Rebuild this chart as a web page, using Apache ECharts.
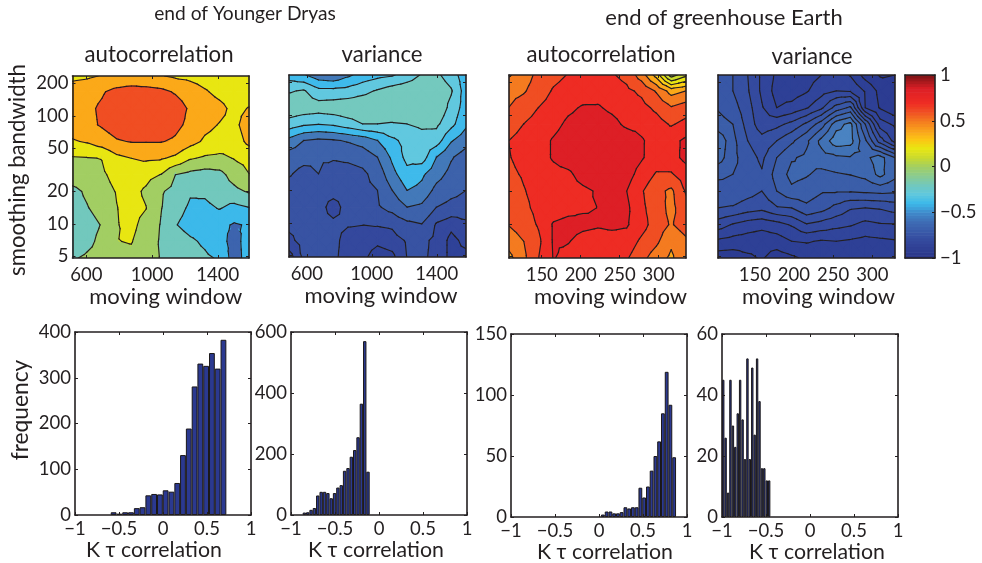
<!DOCTYPE html>
<html><head><meta charset="utf-8">
<style>html,body{margin:0;padding:0;background:#fff}#c{width:982px;height:563px}</style>
<script src="https://cdn.jsdelivr.net/npm/echarts@6/dist/echarts.min.js"></script>
</head><body><div id="c"></div>
<script>
var bandwidthNodes=[234,167,117,82.5,58,40.6,28.5,20,14,9.8,6.9,4.84];
var bandwidthTicks=[5,10,20,50,100,200];

var windowNodesYD1=[515,605,694,784,873,963,1053,1142,1232,1321,1411,1500,1590];
var windowNodesYD2=[490,581,672,763,853,944,1035,1126,1217,1308,1398,1489,1580];
var windowNodesGE1=[108,127,146,165,184,203,222,240,259,278,297,316,335];
var windowNodesGE2=[103,122,141,159,178,197,216,235,254,272,291,310,329];
var windowTicksYD=[600,1000,1400];
var windowTicksGE=[150,200,250,300];

var autocorrYD=[
[.15,.17,.21,.23,.23,.23,.21,.17,.15,.12,.08,.08,.08],
[.3,.33,.38,.46,.5,.48,.45,.38,.3,.22,.15,.1,.1],
[.32,.36,.43,.52,.55,.55,.55,.5,.37,.3,.25,.15,.21],
[.3,.35,.42,.5,.55,.55,.52,.45,.35,.25,.19,.15,.3],
[.18,.22,.3,.38,.41,.41,.41,.37,.27,.17,.13,.1,.25],
[-.02,-.01,.005,.15,.2,.23,.22,.16,.02,-.03,-.05,.01,.06],
[-.1,-.08,-.03,.06,.1,.06,-.005,-.2,-.26,-.29,-.26,-.12,-.005],
[-.25,-.17,-.07,.01,.06,-.03,-.18,-.26,-.38,-.37,-.31,-.25,-.18],
[-.27,-.21,-.13,-.005,.06,.005,-.19,-.33,-.43,-.44,-.39,-.46,-.41],
[-.3,-.27,-.19,-.01,.05,-.07,-.21,-.39,-.47,-.5,-.55,-.62,-.58],
[-.33,-.25,-.15,-.005,.01,-.1,-.22,-.3,-.37,-.43,-.52,-.68,-.5],
[-.22,-.17,-.13,-.05,-.05,-.12,-.21,-.28,-.33,-.37,-.42,-.7,-.5]];
var varianceYD=[
[-.55,-.59,-.66,-.68,-.62,-.56,-.53,-.51,-.46,-.39,-.38,-.45,-.56],
[-.41,-.39,-.47,-.47,-.46,-.43,-.39,-.35,-.33,-.31,-.33,-.39,-.55],
[-.33,-.34,-.35,-.34,-.33,-.32,-.31,-.3,-.28,-.28,-.32,-.43,-.55],
[-.44,-.48,-.495,-.48,-.44,-.4,-.4,-.41,-.4,-.38,-.38,-.47,-.58],
[-.63,-.7,-.72,-.71,-.69,-.66,-.6,-.52,-.47,-.44,-.45,-.59,-.66],
[-.75,-.77,-.79,-.79,-.78,-.76,-.7,-.58,-.47,-.45,-.6,-.69,-.75],
[-.79,-.83,-.8,-.84,-.84,-.82,-.76,-.63,-.53,-.58,-.66,-.73,-.77],
[-.84,-.85,-.85,-.85,-.85,-.82,-.8,-.7,-.6,-.63,-.73,-.77,-.8],
[-.85,-.85,-.85,-.89,-.85,-.85,-.81,-.77,-.7,-.72,-.8,-.83,-.84],
[-.86,-.855,-.855,-.86,-.865,-.868,-.865,-.86,-.82,-.8,-.875,-.9,-.88],
[-.88,-.855,-.85,-.855,-.89,-.89,-.9,-.89,-.865,-.855,-.885,-.92,-.9],
[-.93,-.86,-.85,-.86,-.89,-.9,-.93,-.92,-.869,-.86,-.885,-.92,-.92]];
var autocorrGE=[
[.44,.5,.58,.62,.655,.67,.67,.66,.62,.5,.31,.0,.12],
[.52,.54,.6,.66,.69,.7,.71,.7,.67,.63,.54,.41,.45],
[.551,.6,.651,.69,.73,.76,.76,.73,.7,.68,.63,.56,.6],
[.6,.651,.69,.72,.77,.79,.8,.78,.73,.72,.69,.64,.68],
[.651,.69,.71,.76,.8,.82,.83,.83,.81,.76,.71,.72,.77],
[.645,.68,.71,.76,.8,.82,.83,.83,.81,.76,.7,.71,.78],
[.63,.66,.69,.72,.73,.79,.82,.82,.79,.71,.64,.64,.7],
[.6,.645,.68,.7,.71,.73,.76,.79,.75,.66,.58,.53,.66],
[.58,.63,.675,.7,.72,.74,.751,.79,.77,.67,.6,.52,.62],
[.555,.6,.66,.76,.78,.77,.76,.77,.76,.69,.6,.54,.6],
[.49,.55,.63,.76,.755,.72,.71,.71,.71,.63,.57,.47,.53],
[.42,.53,.65,.755,.72,.7,.7,.7,.66,.58,.5,.43,.54]];
var varianceGE=[
[-.805,-.82,-.85,-.886,-.916,-.922,-.922,-.91,-.895,-.912,-.952,-.973,-.97],
[-.796,-.82,-.847,-.886,-.922,-.925,-.913,-.892,-.88,-.883,-.913,-.949,-.967],
[-.793,-.808,-.838,-.877,-.91,-.901,-.883,-.856,-.808,-.784,-.91,-.943,-.964],
[-.778,-.79,-.832,-.868,-.859,-.841,-.814,-.775,-.712,-.691,-.79,-.895,-.916],
[-.736,-.781,-.82,-.838,-.82,-.796,-.766,-.721,-.682,-.688,-.754,-.835,-.892],
[-.745,-.781,-.808,-.826,-.79,-.763,-.754,-.742,-.736,-.733,-.736,-.718,-.76],
[-.784,-.79,-.802,-.817,-.778,-.751,-.757,-.769,-.763,-.759,-.751,-.721,-.751],
[-.802,-.799,-.808,-.82,-.79,-.766,-.775,-.787,-.787,-.787,-.784,-.781,-.784],
[-.82,-.823,-.835,-.841,-.823,-.82,-.796,-.808,-.829,-.847,-.85,-.847,-.838],
[-.865,-.883,-.895,-.901,-.892,-.877,-.853,-.862,-.871,-.877,-.889,-.883,-.882],
[-.916,-.922,-.925,-.928,-.925,-.91,-.907,-.913,-.91,-.914,-.919,-.916,-.913],
[-.958,-.958,-.946,-.937,-.955,-.946,-.934,-.934,-.937,-.934,-.937,-.937,-.937]];

var levelsAutocorrYD=[-.6,-.4,-.2,0,.2,.4];
var levelsVarianceYD=[-.91,-.87,-.8,-.7,-.6,-.5,-.4];
var levelsAutocorrGE=[.05,.15,.25,.35,.45,.55,.65,.75];
var levelsVarianceGE=[-.97,-.94,-.91,-.88,-.85,-.82,-.79,-.76,-.73,-.7];
var fillsAutocorrYD=['#3d64ae','#3cb9ea','#72c8bd','#a2ce63','#e8e612','#fba919','#f04e23'];
var fillsVarianceYD=['#2f4298','#34489d','#3853a3','#3d62ab','#4379b9','#3fbaeb','#61c8df','#74c9be'];
var fillsAutocorrGE=['#a2ce63','#c9da2e','#e8e612','#fcd116','#fba919','#f47b20','#f04e23','#ee2c24','#dd1f26'];
var fillsVarianceGE=['#2b3a8f','#2c3c92','#2e4096','#31459b','#344a9e','#3650a2','#3857a6','#3b5ea9','#3e67af','#4172b5','#4a83c2'];

var colorbarValues=[-1,-.8,-.6,-.5,-.4,-.3,-.2,0,.1,.2,.3,.4,.5,.6,.7,.85,1];
var colorbarColors=['#2a3488','#344a9e','#3f6db5','#3f8bcb','#3cb9ea','#5fc8de','#72c8bd','#a2ce63','#c9da2e','#e8e612','#fcc515','#f9a01b','#f47b20','#f04e23','#ee2c24','#dd1f26','#7d1416'];
var colorbarTicks=[-1,-.5,0,.5,1];

var histBinsAutocorrYD=[-.561,-.495,-.43,-.364,-.298,-.233,-.167,-.101,-.035,.03,.096,.162,.227,.293,.359,.424,.49,.556,.621,.687];
var histCountsAutocorrYD=[6,3,6,6,15,17,43,46,45,54,51,70,131,189,281,331,326,354,320,383];
var histBinsVarianceYD=[-.848,-.81,-.772,-.734,-.696,-.657,-.619,-.581,-.543,-.505,-.467,-.429,-.391,-.352,-.314,-.276,-.238,-.2,-.162,-.125];
var histCountsVarianceYD=[8,9,17,23,64,76,76,72,55,72,90,98,145,154,191,213,255,365,570,142];
var histBinsAutocorrGE=[.044,.087,.13,.172,.215,.257,.3,.343,.385,.428,.47,.513,.556,.598,.641,.683,.726,.769,.811,.854];
var histCountsAutocorrGE=[2,4.5,4.5,3,3,4,8,7,8,8,24,16,25,38,50,62,85,119,92,49];
var histBinsVarianceGE=[-.986,-.959,-.931,-.904,-.876,-.849,-.821,-.794,-.766,-.739,-.711,-.684,-.656,-.629,-.601,-.574,-.546,-.519,-.491,-.464];
var histCountsVarianceGE=[45,26,8,45,30,23,34,45,32,19,52,19,49,27,52,38,16,16,12,12];

var INK='#231f20', FONT='Lato, "Open Sans", sans-serif';

function clipAt(poly,L,keepAbove){
  var out=[];
  for(var i=0;i<poly.length;i++){
    var a=poly[i],b=poly[(i+1)%poly.length];
    var ia=keepAbove?a.v>=L:a.v<=L, ib=keepAbove?b.v>=L:b.v<=L;
    if(ia) out.push(a);
    if(ia!==ib){var t=(L-a.v)/(b.v-a.v);out.push({x:a.x+t*(b.x-a.x),y:a.y+t*(b.y-a.y),v:L});}
  }
  return out;
}
function cellTriangles(api){
  var x0=api.value(0),x1=api.value(1),y0=api.value(2),y1=api.value(3);
  function P(x,y,v){var c=api.coord([x,y]);return {x:c[0],y:c[1],v:v};}
  var a=P(x0,y0,api.value(4)),b=P(x1,y0,api.value(5)),c=P(x1,y1,api.value(6)),d=P(x0,y1,api.value(7));
  var m={x:(a.x+b.x+c.x+d.x)/4,y:(a.y+b.y+c.y+d.y)/4,v:(a.v+b.v+c.v+d.v)/4};
  return [[a,b,m],[b,c,m],[c,d,m],[d,a,m]];
}
function fillRenderer(levels,fills){
  return function(params,api){
    var kids=[];
    cellTriangles(api).forEach(function(tri){
      for(var k=0;k<fills.length;k++){
        var poly=tri;
        if(k>0) poly=clipAt(poly,levels[k-1],true);
        if(k<levels.length && poly.length) poly=clipAt(poly,levels[k],false);
        if(poly.length>2) kids.push({type:'polygon',silent:true,
          shape:{points:poly.map(function(p){return [p.x,p.y];})},
          style:{fill:fills[k],stroke:fills[k],lineWidth:1.3}});
      }
    });
    return {type:'group',children:kids};
  };
}
function lineRenderer(levels){
  return function(params,api){
    var kids=[];
    cellTriangles(api).forEach(function(tri){
      levels.forEach(function(L){
        var pts=[];
        for(var i=0;i<3;i++){
          var a=tri[i],b=tri[(i+1)%3];
          if((a.v<L)!==(b.v<L)){var t=(L-a.v)/(b.v-a.v);pts.push([a.x+t*(b.x-a.x),a.y+t*(b.y-a.y)]);}
        }
        if(pts.length===2) kids.push({type:'line',silent:true,
          shape:{x1:pts[0][0],y1:pts[0][1],x2:pts[1][0],y2:pts[1][1]},
          style:{stroke:INK,lineWidth:1.15,lineCap:'round'}});
      });
    });
    return {type:'group',children:kids};
  };
}
function cells(xs,ys,z){
  var out=[];
  for(var r=0;r<ys.length-1;r++)for(var c=0;c<xs.length-1;c++)
    out.push([xs[c],xs[c+1],ys[r],ys[r+1],z[r][c],z[r][c+1],z[r+1][c+1],z[r+1][c]]);
  return out;
}
function mix(c1,c2,t){
  var a=[1,3,5].map(function(i){return parseInt(c1.substr(i,2),16);}),b=[1,3,5].map(function(i){return parseInt(c2.substr(i,2),16);});
  return 'rgb('+a.map(function(v,i){return Math.round(v+(b[i]-v)*t);}).join(',')+')';
}
function barColor(v){
  for(var i=0;i<colorbarValues.length-1;i++){
    if(v<=colorbarValues[i+1]) return mix(colorbarColors[i],colorbarColors[i+1],(v-colorbarValues[i])/(colorbarValues[i+1]-colorbarValues[i]));
  }
  return colorbarColors[colorbarColors.length-1];
}
function minus(v){return String(v).replace('-','\u2212');}
function plain(v){return String(v);}

var grids=[],xAxes=[],yAxes=[],series=[],titles=[];
var lineStyle={color:INK,width:1.6};
var nameStyle={color:INK,fontFamily:FONT,fontSize:22};

function addBox(g,xCfg,yCfg){
  var gi=grids.length;grids.push({left:g[0],top:g[1],width:g[2],height:g[3],outerBoundsMode:'none'});
  var common={gridIndex:gi,z:5,splitLine:{show:false},axisLine:{show:true,onZero:false,lineStyle:lineStyle}};
  var xTick={show:true,inside:true,length:3,lineStyle:{color:INK,width:1}};
  var xi=xAxes.length, yi=yAxes.length;
  xAxes.push(Object.assign({},common,xCfg,{position:'bottom',axisTick:Object.assign({},xTick,xCfg.tickExtra||{})}));
  xAxes.push(Object.assign({},common,xCfg,{position:'top',name:'',axisLabel:{show:false,customValues:(xCfg.axisLabel||{}).customValues},axisTick:Object.assign({},xTick,xCfg.tickExtra||{})}));
  yAxes.push(Object.assign({},common,yCfg,{position:'left',axisTick:Object.assign({},xTick,yCfg.tickExtra||{})}));
  yAxes.push(Object.assign({},common,yCfg,{position:'right',name:'',axisLabel:{show:false,customValues:(yCfg.axisLabel||{}).customValues},axisTick:Object.assign({},xTick,yCfg.tickExtra||{})}));
  return {x:xi,y:yi};
}
function contourPanel(g,xs,ticks,z,levels,fills,showY,shift){
  var ax=addBox(g,{
    type:'value',min:xs[0],max:xs[xs.length-1],
    name:'moving window',nameLocation:'middle',nameGap:27,
    nameTextStyle:Object.assign({},nameStyle,{padding:[0,0,0,shift]}),
    axisLabel:{show:true,margin:8,customValues:ticks,color:INK,fontFamily:FONT,fontSize:18.5,formatter:plain},
    tickExtra:{customValues:ticks}
  },{
    type:'log',logBase:10,min:bandwidthNodes[bandwidthNodes.length-1],max:bandwidthNodes[0],
    name:showY?'smoothing bandwidth':'',nameLocation:'middle',nameGap:44,
    nameTextStyle:Object.assign({},nameStyle,{fontSize:22.2,padding:[0,0,0,-6]}),
    axisLabel:{show:showY,margin:4,customValues:bandwidthTicks,color:INK,fontFamily:FONT,fontSize:18.5,formatter:plain},
    tickExtra:{customValues:bandwidthTicks}
  });
  var data=cells(xs,bandwidthNodes,z);
  var enc={x:[0,1],y:[2,3]};
  series.push({type:'custom',xAxisIndex:ax.x,yAxisIndex:ax.y,coordinateSystem:'cartesian2d',clip:true,silent:true,z:2,data:data,encode:enc,renderItem:fillRenderer(levels,fills)});
  series.push({type:'custom',xAxisIndex:ax.x,yAxisIndex:ax.y,coordinateSystem:'cartesian2d',clip:true,silent:true,z:3,data:data,encode:enc,renderItem:lineRenderer(levels)});
}
function histPanel(g,bins,counts,ymax,step,barW,showName,shift){
  var ax=addBox(g,{
    type:'value',min:-1,max:1,interval:.5,
    name:'K \u03c4 correlation',nameLocation:'middle',nameGap:23,
    nameTextStyle:Object.assign({},nameStyle,{fontSize:21.3,padding:[0,0,0,shift]}),
    axisLabel:{show:true,margin:5,color:INK,fontFamily:FONT,fontSize:18.5,hideOverlap:false,formatter:minus}
  },{
    type:'value',min:0,max:ymax,interval:step,
    name:showName?'frequency':'',nameLocation:'middle',nameGap:43,
    nameTextStyle:Object.assign({},nameStyle,{fontSize:22.8,padding:[0,0,0,27]}),
    axisLabel:{show:true,margin:4,color:INK,fontFamily:FONT,fontSize:18.5}
  });
  series.push({type:'bar',xAxisIndex:ax.x,yAxisIndex:ax.y,barWidth:barW,silent:true,
    data:bins.map(function(b,i){return [b,counts[i]];}),
    itemStyle:{color:'#2b3990',borderColor:'#1a1718',borderWidth:1}});
}

contourPanel([72.5,76,176.5,182],windowNodesYD1,windowTicksYD,autocorrYD,levelsAutocorrYD,fillsAutocorrYD,true,10);
contourPanel([289,75,177,182],windowNodesYD2,windowTicksYD,varianceYD,levelsVarianceYD,fillsVarianceYD,false,7);
contourPanel([509,75,177,183],windowNodesGE1,windowTicksGE,autocorrGE,levelsAutocorrGE,fillsAutocorrGE,false,26);
contourPanel([718,75,177,183],windowNodesGE2,windowTicksGE,varianceGE,levelsVarianceGE,fillsVarianceGE,false,24);

histPanel([75,332,176,183],histBinsAutocorrYD,histCountsAutocorrYD,400,100,5.8,true,-18);
histPanel([291,332,176,183],histBinsVarianceYD,histCountsVarianceYD,600,200,3.4,false,-6);
histPanel([511,334,176,183],histBinsAutocorrGE,histCountsAutocorrGE,150,50,3.8,false,12);
histPanel([722,334,176,183],histBinsVarianceGE,histCountsVarianceGE,60,20,2.4,false,14);

// colour bar
(function(){
  var ax=addBox([905,75,30,183],{type:'value',min:0,max:1,axisLabel:{show:false},tickExtra:{show:false}},
    {type:'value',min:-1,max:1,interval:.5,axisLabel:{show:false},tickExtra:{show:false}});
  var last=yAxes[yAxes.length-1];
  last.axisLabel={show:true,margin:5,color:INK,fontFamily:FONT,fontSize:18.5,formatter:minus,customValues:colorbarTicks};
  last.axisTick={show:true,inside:true,length:3,lineStyle:{color:INK,width:1}};
  var strip=[];
  for(var i=0;i<64;i++) strip.push([-1+i/32,-1+(i+1)/32]);
  series.push({type:'custom',xAxisIndex:ax.x,yAxisIndex:ax.y,silent:true,z:2,data:strip,encode:{y:[0,1]},
    renderItem:function(p,api){
      var a=api.coord([0,api.value(0)]),b=api.coord([1,api.value(1)]);
      return {type:'rect',shape:{x:a[0],y:b[1],width:b[0]-a[0],height:a[1]-b[1]+.6},style:{fill:barColor((api.value(0)+api.value(1))/2)}};
    }});
})();

function addTitle(t,x,y,size){titles.push({text:t,left:x,top:y,textAlign:'center',textVerticalAlign:'middle',padding:0,textStyle:{color:INK,fontFamily:FONT,fontSize:size,fontWeight:'normal'}});}
addTitle('end of Younger Dryas',245,14,19.2);
addTitle('end of greenhouse Earth',724,18,22);
addTitle('autocorrelation',159,55,22.2);
addTitle('variance',382,55,22.2);
addTitle('autocorrelation',601,55,22.2);
addTitle('variance',812,57,22.2);

var chart=echarts.init(document.getElementById('c'),null,{renderer:'canvas'});
chart.setOption({animation:false,backgroundColor:'#fff',title:titles,grid:grids,xAxis:xAxes,yAxis:yAxes,series:series,tooltip:{show:false}});
</script></body></html>
